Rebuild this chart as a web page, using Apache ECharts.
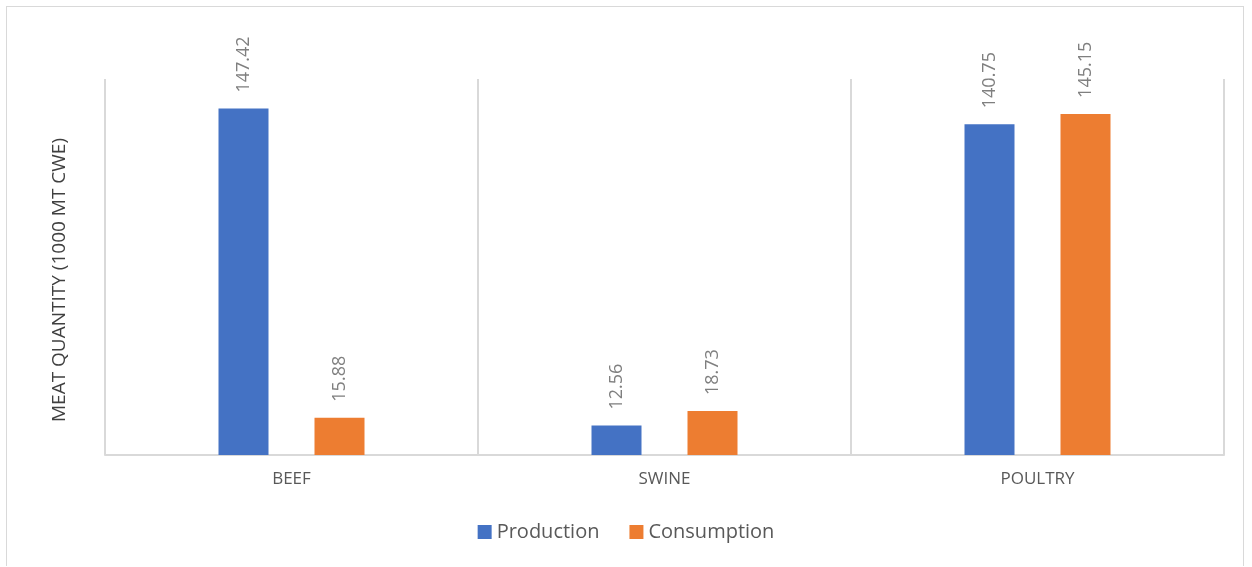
<!DOCTYPE html>
<html>
<head>
<meta charset="utf-8">
<script src="https://cdn.jsdelivr.net/npm/echarts@6/dist/echarts.min.js"></script>
<style>
html,body{margin:0;padding:0;background:#fff;}
#wrap{position:absolute;left:6px;top:6px;width:1238px;height:560px;border:1px solid #d9d9d9;border-bottom:none;box-sizing:border-box;}
#c{position:absolute;left:0;top:0;width:1252px;height:567px;}
</style>
</head>
<body>
<div id="wrap"></div>
<div id="c"></div>
<script>
const categories = ['BEEF', 'SWINE', 'POULTRY'];
const production = [147.42, 12.56, 140.75];
const consumption = [15.88, 18.73, 145.15];
const seriesNames = ['Production', 'Consumption'];

const chart = echarts.init(document.getElementById('c'));
const labelStyle = {
  show: true, position: 'top', rotate: 90, align: 'left', verticalAlign: 'middle',
  distance: 16, color: '#7f7f7f', fontSize: 18, fontFamily: 'Open Sans',
  formatter: p => p.value.toFixed(2)
};
chart.setOption({
  animation: false,
  grid: { left: 105, right: 28, top: 79, bottom: 112 },
  legend: {
    bottom: 20, left: 'center', itemWidth: 14, itemHeight: 14, itemGap: 30,
    icon: 'rect',
    textStyle: { color: '#595959', fontSize: 20, fontFamily: 'Open Sans' },
    data: seriesNames
  },
  xAxis: {
    type: 'category', data: categories,
    axisLine: { lineStyle: { color: '#d9d9d9', width: 2 } },
    axisTick: { show: false },
    axisLabel: { color: '#595959', fontSize: 17, fontFamily: 'Open Sans', margin: 16 },
    splitLine: { show: true, lineStyle: { color: '#d9d9d9', width: 2 } }
  },
  yAxis: {
    type: 'value', min: 0, max: 160,
    name: 'MEAT QUANTITY (1000 MT CWE)', nameLocation: 'middle', nameGap: 36,
    nameTextStyle: { color: '#404040', fontSize: 19, fontFamily: 'Open Sans', padding: [0, 26, 0, 0] },
    axisLine: { show: false }, axisTick: { show: false },
    axisLabel: { show: false }, splitLine: { show: false }
  },
  series: [
    { name: seriesNames[0], type: 'bar', data: production, barWidth: 50, barGap: '92%',
      itemStyle: { color: '#4472c4' }, label: labelStyle },
    { name: seriesNames[1], type: 'bar', data: consumption, barWidth: 50, barGap: '92%',
      itemStyle: { color: '#ed7d31' }, label: labelStyle }
  ]
});
</script>
</body>
</html>
